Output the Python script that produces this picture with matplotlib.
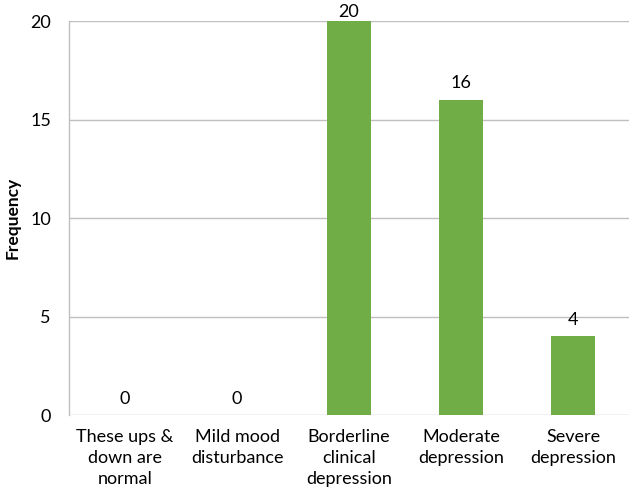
import matplotlib.pyplot as plt

categories = ["These ups &\ndown are\nnormal", "Mild mood\ndisturbance",
              "Borderline\nclinical\ndepression", "Moderate\ndepression",
              "Severe\ndepression"]
frequency = [0, 0, 20, 16, 4]
y_ticks = [0, 5, 10, 15, 20]

plt.rcParams['font.family'] = ['Lato', 'DejaVu Sans']

fig = plt.figure(figsize=(6.29, 4.93), dpi=100)
ax = fig.add_axes([0.1097, 0.158, 0.8903, 0.7994])

x = range(len(categories))
bars = ax.bar(x, frequency, width=0.39, color='#70AD47', zorder=3)

ax.set_xlim(-0.5, len(categories) - 0.5)
ax.set_ylim(0, 20)
ax.set_yticks(y_ticks)
ax.set_xticks(list(x))
ax.set_xticklabels(categories, fontsize=13, linespacing=1.4)
ax.tick_params(axis='y', length=0, pad=13, labelsize=13)
ax.tick_params(axis='x', length=0, pad=10)

ax.yaxis.grid(True, color='#BFBFBF', linewidth=1.0, zorder=0)
for side in ['top', 'right', 'bottom']:
    ax.spines[side].set_visible(False)
ax.spines['left'].set_color('#BFBFBF')
ax.spines['left'].set_linewidth(1.0)

# value labels; the tallest one gets squeezed against the top of the plot area
for rect, v in zip(bars, frequency):
    pad = 1 if v >= 19 else 6
    ax.annotate(str(v), (rect.get_x() + rect.get_width() / 2, v),
                xytext=(0, pad), textcoords='offset points',
                ha='center', va='bottom', fontsize=13, annotation_clip=False)

ax.set_ylabel('Frequency', fontsize=12.5, fontweight='bold')
ax.yaxis.set_label_coords(-0.086, 0.5)

fig.savefig('out.png', dpi=100)
